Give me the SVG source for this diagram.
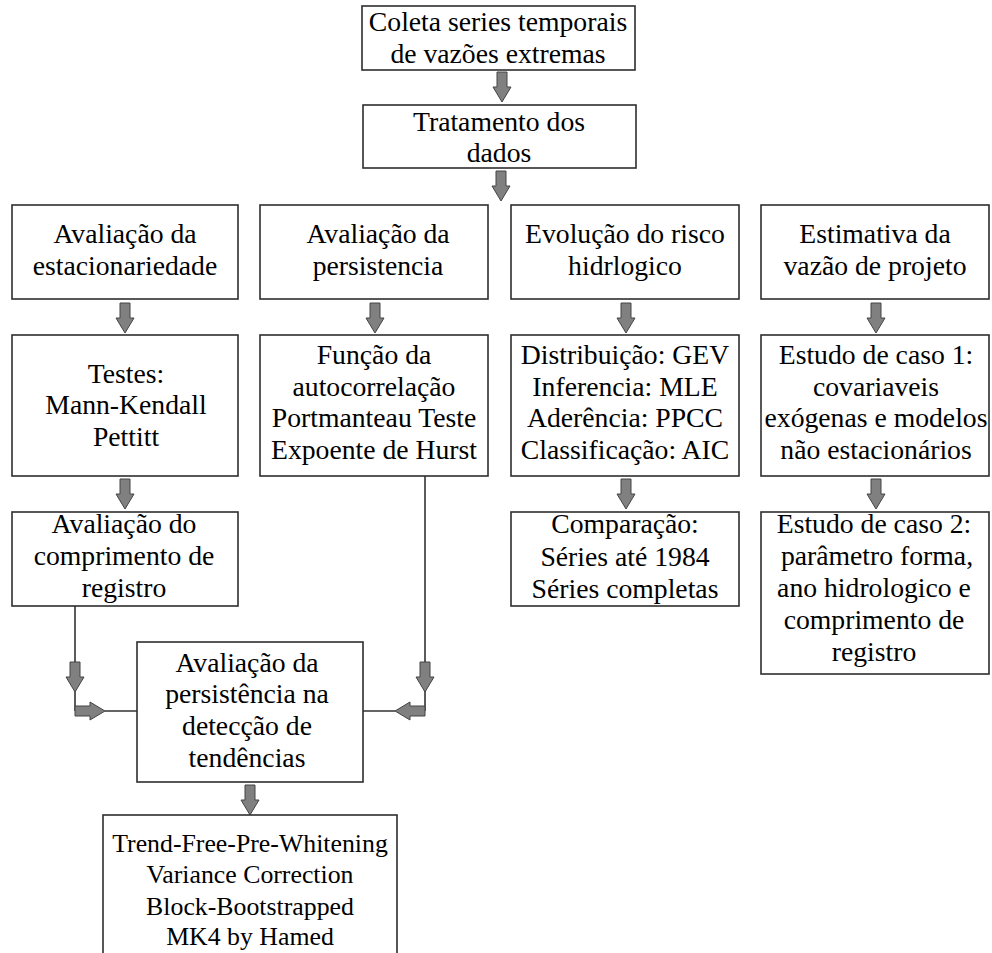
<svg xmlns="http://www.w3.org/2000/svg" width="992" height="953" viewBox="0 0 992 953">
<style>
.box{fill:#fff;stroke:#2e2e2e;stroke-width:1.6}
.t{font-family:"Liberation Serif","Times New Roman",serif;font-size:27.7px;fill:#000;text-anchor:middle}
.s{font-size:25.8px}
.ln{fill:none;stroke:#333;stroke-width:1.6}
.ar{fill:#808080;stroke:#444;stroke-width:1}
</style>
<defs>
<path id="down" class="ar" d="M-5,0 H5 V15 H9 L0,30 L-9,15 H-5 Z"/>
</defs>
<rect width="992" height="953" fill="#fff"/>
<g id="connectors">
<use href="#down" x="502" y="72"/>
<use href="#down" x="501" y="171"/>
<use href="#down" x="125" y="303"/>
<use href="#down" x="375" y="303"/>
<use href="#down" x="626" y="303"/>
<use href="#down" x="876" y="303"/>
<use href="#down" x="125" y="479"/>
<use href="#down" x="626" y="479"/>
<use href="#down" x="876" y="479"/>
<use href="#down" x="250" y="785"/>
<path class="ln" d="M75,606 V662 M75,688 V711 M105,711 H137"/>
<use href="#down" x="75" y="662"/>
<use href="#down" transform="translate(75,711) rotate(-90)"/>
<path class="ln" d="M425,476 V662 M425,688 V711 M395,711 H363"/>
<use href="#down" x="425" y="662"/>
<use href="#down" transform="translate(425,711) rotate(90)"/>
</g>
<g id="n-coleta">
<rect class="box" x="362" y="6" width="273" height="64"/>
<text class="t" x="498" y="31">Coleta series temporais</text>
<text class="t" x="498" y="63">de vazões extremas</text>
</g>
<g id="n-tratamento">
<rect class="box" x="363" y="105" width="273" height="63"/>
<text class="t" x="499" y="131">Tratamento dos</text>
<text class="t" x="499" y="162">dados</text>
</g>
<g id="n-estacionariedade">
<rect class="box" x="12" y="205" width="226" height="94"/>
<text class="t" x="125" y="243">Avaliação da</text>
<text class="t" x="125" y="275">estacionariedade</text>
</g>
<g id="n-persistencia">
<rect class="box" x="260" y="205" width="228" height="94"/>
<text class="t" x="378" y="243">Avaliação da</text>
<text class="t" x="378" y="275">persistencia</text>
</g>
<g id="n-risco">
<rect class="box" x="511" y="205" width="228" height="94"/>
<text class="t" x="625" y="243">Evolução do risco</text>
<text class="t" x="625" y="275">hidrlogico</text>
</g>
<g id="n-vazao">
<rect class="box" x="761" y="205" width="228" height="94"/>
<text class="t" x="875" y="243">Estimativa da</text>
<text class="t" x="875" y="275">vazão de projeto</text>
</g>
<g id="n-testes">
<rect class="box" x="12" y="335" width="226" height="141"/>
<text class="t" x="126" y="383">Testes:</text>
<text class="t" x="126" y="414">Mann-Kendall</text>
<text class="t" x="126" y="446">Pettitt</text>
</g>
<g id="n-funcao">
<rect class="box" x="260" y="335" width="228" height="141"/>
<text class="t" x="374" y="364">Função da</text>
<text class="t" x="374" y="396">autocorrelação</text>
<text class="t" x="374" y="427">Portmanteau Teste</text>
<text class="t" x="374" y="459">Expoente de Hurst</text>
</g>
<g id="n-distribuicao">
<rect class="box" x="511" y="335" width="228" height="141"/>
<text class="t" x="625" y="364">Distribuição: GEV</text>
<text class="t" x="625" y="396">Inferencia: MLE</text>
<text class="t" x="625" y="427">Aderência: PPCC</text>
<text class="t" x="625" y="459">Classificação: AIC</text>
</g>
<g id="n-caso1">
<rect class="box" x="761" y="335" width="228" height="141"/>
<text class="t" x="876" y="364">Estudo de caso 1:</text>
<text class="t" x="876" y="396">covariaveis</text>
<text class="t" x="876" y="427">exógenas e modelos</text>
<text class="t" x="876" y="459">não estacionários</text>
</g>
<g id="n-comprimento">
<rect class="box" x="12" y="512" width="226" height="94"/>
<text class="t" x="124" y="533">Avaliação do</text>
<text class="t" x="124" y="565">comprimento de</text>
<text class="t" x="124" y="597">registro</text>
</g>
<g id="n-comparacao">
<rect class="box" x="511" y="512" width="228" height="94"/>
<text class="t" x="625" y="533">Comparação:</text>
<text class="t" x="625" y="566">Séries até 1984</text>
<text class="t" x="625" y="598">Séries completas</text>
</g>
<g id="n-caso2">
<rect class="box" x="761" y="512" width="228" height="162"/>
<text class="t" x="874" y="533">Estudo de caso 2:</text>
<text class="t" x="877" y="565">parâmetro forma,</text>
<text class="t" x="874" y="597">ano hidrologico e</text>
<text class="t" x="874" y="629">comprimento de</text>
<text class="t" x="874" y="661">registro</text>
</g>
<g id="n-deteccao">
<rect class="box" x="137" y="642" width="226" height="140"/>
<text class="t" x="247" y="672">Avaliação da</text>
<text class="t" x="247" y="703">persistência na</text>
<text class="t" x="247" y="735">detecção de</text>
<text class="t" x="247" y="767">tendências</text>
</g>
<g id="n-metodos">
<rect class="box" x="103" y="815" width="294" height="150"/>
<text class="t s" x="250" y="852">Trend-Free-Pre-Whitening</text>
<text class="t s" x="250" y="883">Variance Correction</text>
<text class="t s" x="250" y="915">Block-Bootstrapped</text>
<text class="t s" x="250" y="945">MK4 by Hamed</text>
</g>
</svg>
